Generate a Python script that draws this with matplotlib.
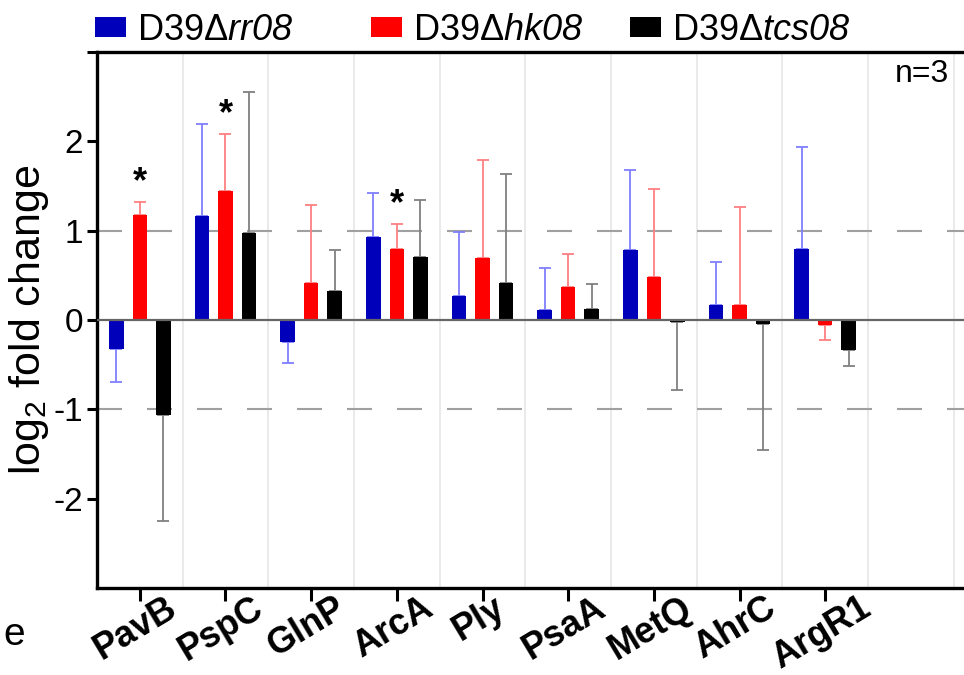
import numpy as np
import matplotlib.pyplot as plt
import matplotlib.transforms as mtransforms
from matplotlib.patches import Patch

plt.rcParams['font.family'] = ['Liberation Sans', 'DejaVu Sans']
plt.rcParams['mathtext.fontset'] = 'custom'
plt.rcParams['mathtext.rm'] = 'Liberation Sans'
plt.rcParams['mathtext.sf'] = 'Liberation Sans:italic'

# log2 fold change per gene, mean and one-sided error
genes = ['PavB', 'PspC', 'GlnP', 'ArcA', 'Ply', 'PsaA', 'MetQ', 'AhrC', 'ArgR1']
rr08_mean = [-0.33, 1.17, -0.25, 0.93, 0.27, 0.11, 0.78, 0.17, 0.79]
rr08_err = [0.36, 1.02, 0.23, 0.49, 0.72, 0.47, 0.90, 0.48, 1.15]
hk08_mean = [1.18, 1.44, 0.42, 0.79, 0.69, 0.37, 0.48, 0.17, -0.06]
hk08_err = [0.14, 0.64, 0.87, 0.28, 1.10, 0.37, 0.99, 1.09, 0.16]
tcs08_mean = [-1.06, 0.97, 0.32, 0.71, 0.41, 0.12, -0.02, -0.04, -0.34]
tcs08_err = [1.19, 1.58, 0.46, 0.63, 1.23, 0.28, 0.76, 1.41, 0.17]
hk08_sig = [True, True, False, True, False, False, False, False, False]

series = [
    ('D39$\\Delta\\mathsf{rr08}$', rr08_mean, rr08_err, '#0000BB', '#7F7FFF'),
    ('D39$\\Delta\\mathsf{hk08}$', hk08_mean, hk08_err, '#FF0000', '#FF8080'),
    ('D39$\\Delta\\mathsf{tcs08}$', tcs08_mean, tcs08_err, '#000000', '#808080'),
]

fig = plt.figure(figsize=(9.64, 6.75), dpi=100)
ax = fig.add_axes([0.1006, 0.1289, 0.8994, 0.794])

x = np.arange(len(genes))
offsets = [-0.274, 0, 0.274]
width = 0.17

# background lines
for xv in np.arange(len(genes) + 1) + 0.5:
    ax.axvline(xv, color='#E6E6E6', lw=1.2, zorder=0)
for yv in (-1, 1):
    ax.axhline(yv, color='#A0A0A0', lw=1.5, dashes=(12, 12), zorder=0)
ax.axhline(0, color='#666666', lw=1.6, zorder=4)

handles = []
for (label, mean, err, col, ecol), off in zip(series, offsets):
    mean = np.array(mean)
    err = np.array(err)
    lower = np.where(mean < 0, err, 0)
    upper = np.where(mean >= 0, err, 0)
    ax.bar(x + off, mean, width=width, color=col, zorder=3)
    ax.errorbar(x + off, mean, yerr=[lower, upper], fmt='none', ecolor=ecol,
                elinewidth=1.3, capsize=4, capthick=1.3, zorder=2)
    handles.append(Patch(facecolor=col, label=label))

hk = np.array(hk08_mean) + np.array(hk08_err)
for i, s in enumerate(hk08_sig):
    if s:
        ax.text(x[i], hk[i] + 0.22, '*', ha='center', va='center',
                fontsize=26, fontweight='bold')

ax.text(9.45, 2.92, 'n=3', ha='right', va='top', fontsize=23)

ax.set_xlim(-0.5, 9.62)
ax.set_ylim(-3, 3)
ax.set_yticks([-2, -1, 0, 1, 2, 3])
ax.set_yticklabels(['-2', '-1', '0', '1', '2', ''])
ax.set_xticks(x)
ax.set_xticklabels([])
# gene names drawn as texts so they can sit a bit closer to the axis
lab_tr = ax.get_xaxis_transform() + mtransforms.ScaledTranslation(
    -0.04, -0.025, fig.dpi_scale_trans)
for i, g in enumerate(genes):
    ax.text(x[i], 0, g, transform=lab_tr, rotation=31, ha='center', va='top',
            fontweight='bold', fontsize=26)
ax.tick_params(axis='y', labelsize=24, width=2.2, length=7, pad=3)
ax.tick_params(axis='x', width=2.2, length=9)
ax.set_ylabel('log$_2$ fold change', fontsize=31, labelpad=2)

for sp in ('left', 'bottom', 'top'):
    ax.spines[sp].set_linewidth(2.4)
ax.spines['right'].set_visible(False)

# legend entries sit at uneven spacing in the original
for h, xl in zip(handles, (0.099, 0.385, 0.654)):
    fig.legend(handles=[h], loc='center left', bbox_to_anchor=(xl, 0.955),
               frameon=False, fontsize=26, handlelength=0.85, handleheight=0.5,
               handletextpad=0.3, borderaxespad=0, borderpad=0)

fig.text(0.004, 0.045, 'e', fontsize=28)

fig.savefig('out.png', dpi=100)
